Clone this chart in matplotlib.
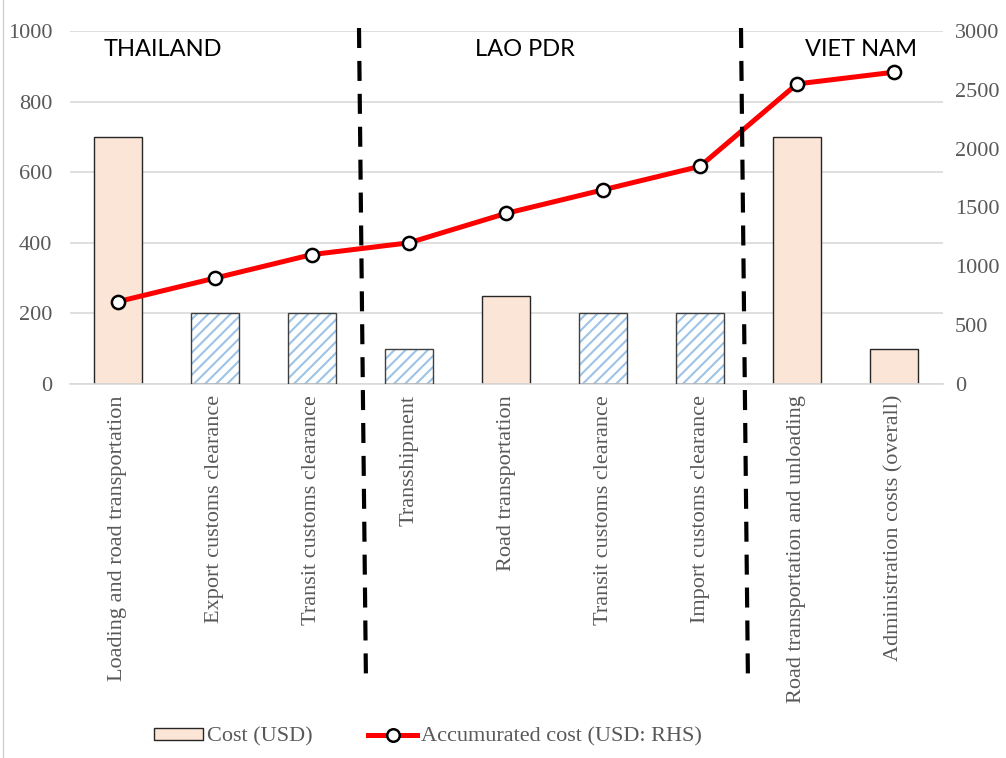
import numpy as np
import matplotlib
matplotlib.use('Agg')
from matplotlib import pyplot as plt
from matplotlib.lines import Line2D
from matplotlib.patches import Patch

categories = ['Loading and road transportation', 'Export customs clearance',
              'Transit customs clearance', 'Transshipment', 'Road transportation',
              'Transit customs clearance', 'Import customs clearance',
              'Road transportation and unloading', 'Administration costs (overall)']
cost = [700, 200, 200, 100, 250, 200, 200, 700, 100]
cumulative = [700, 900, 1100, 1200, 1450, 1650, 1850, 2550, 2650]
is_customs = [False, True, True, True, False, True, True, False, False]
countries = ['THAILAND', 'LAO PDR', 'VIET NAM']

plt.rcParams['hatch.linewidth'] = 1.5

W, H = 1006, 758
fig = plt.figure(figsize=(W/100, H/100), dpi=100)
ax = fig.add_axes([69.5/W, 1-384/H, (942.5-69.5)/W, (384-31)/H])
ax2 = ax.twinx()

serif = 'Liberation Serif'
grey = '#595959'
x = np.arange(len(categories))

for i in x:
    if is_customs[i]:
        ax.bar(i, cost[i], width=0.5, color='white', edgecolor='#9DC3E6',
               hatch='///', linewidth=0, zorder=2)
        ax.bar(i, cost[i], width=0.5, color='none', edgecolor='#404040',
               linewidth=1.0, zorder=3)
    else:
        ax.bar(i, cost[i], width=0.5, color='#FBE5D6', edgecolor='#262626',
               linewidth=1.0, zorder=2)

ax2.plot(x, cumulative, color='#FF0000', lw=3.6, marker='o', ms=9.5,
         mfc='white', mec='black', mew=1.8, zorder=5)

ax.set_xlim(-0.5, len(categories)-0.5)
ax.set_ylim(0, 1000)
ax2.set_ylim(0, 3000)
ax.set_yticks(range(0, 1001, 200))
ax2.set_yticks(range(0, 3001, 500))
ax.grid(axis='y', color='#D9D9D9', lw=1.2, zorder=0)
ax.set_axisbelow(True)
for a in (ax, ax2):
    for s in a.spines.values():
        s.set_visible(False)
    a.tick_params(length=0, labelsize=16, labelcolor=grey)
    for lab in a.get_yticklabels():
        lab.set_fontfamily(serif)
ax.spines['bottom'].set_visible(True)
ax.spines['bottom'].set_color('#D9D9D9')
ax.spines['bottom'].set_linewidth(1.2)
ax.tick_params(axis='y', pad=12.5)
ax2.tick_params(axis='y', pad=9)

ax.set_xticks(x)
ax.set_xticklabels(categories, rotation=90, fontfamily=serif, fontsize=16,
                   color=grey, va='top', ha='center')
ax.tick_params(axis='x', pad=8)

# country names
for cx, name in zip([163, 525, 861], countries):
    fig.text(cx/W, 1-50/H, name, ha='center', va='center',
             fontfamily='Lato', fontsize=17, color='black')

# dashed border lines
for xt, xb in [(359, 366), (741, 748)]:
    fig.add_artist(Line2D([xt/W, xb/W], [1-28/H, 1-685/H], color='black',
                          lw=3, dashes=(4.8, 3.1)))

# left frame line
fig.add_artist(Line2D([2.5/W, 2.5/W], [0, 1], color='#D0D0D0', lw=1))

handles = [Patch(facecolor='#FBE5D6', edgecolor='#262626', lw=1.0),
           Line2D([], [], color='#FF0000', lw=3.6, marker='o', ms=9,
                  mfc='white', mec='black', mew=1.8)]
fig.legend(handles, ['Cost (USD)', 'Accumurated cost (USD: RHS)'], ncol=2,
           loc='center', bbox_to_anchor=(428/W, 1-737/H), frameon=False,
           prop={'family': serif, 'size': 16}, labelcolor=grey,
           handlelength=2.2, handleheight=0.45, handletextpad=0.2,
           columnspacing=2.5, borderpad=0, borderaxespad=0)

plt.savefig('out.png', dpi=100)
